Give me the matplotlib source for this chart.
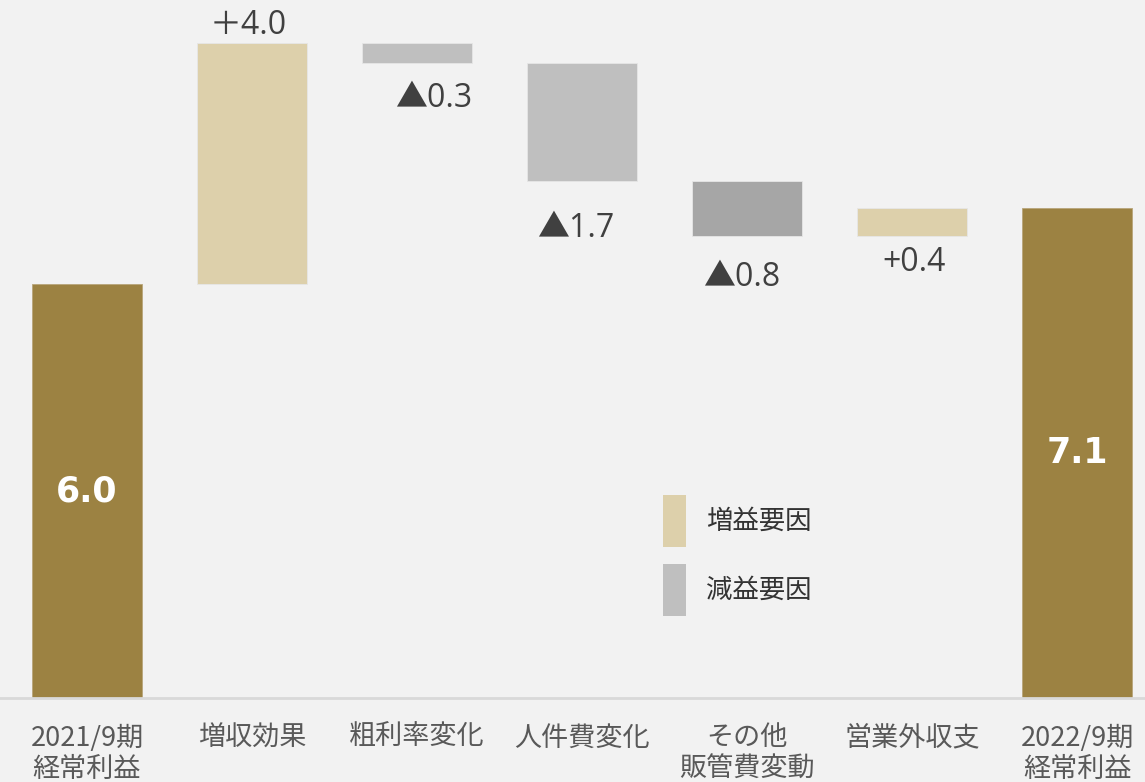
import matplotlib
matplotlib.use("Agg")
import matplotlib.pyplot as plt
from matplotlib.patches import Patch
import numpy as np

plt.rcParams['font.family'] = ['Noto Sans CJK JP', 'DejaVu Sans']

# ---- data ----
categories = ["2021/9期\n経常利益", "増収効果", "粗利率変化", "人件費変化",
              "その他\n販管費変動", "営業外収支", "2022/9期\n経常利益"]
start_value = 6.0
end_value = 7.1
deltas = [3.5, -0.3, -1.7, -0.8, 0.4]
delta_labels = ["＋4.0", "▲0.3", "▲1.7", "▲0.8", "+0.4"]
total_labels = ["6.0", "7.1"]
legend_labels = ["増益要因", "減益要因"]

# ---- styles ----
BG = '#F2F2F2'
C_TOTAL = '#9C8242'
C_INC = '#DDD0AB'
C_DEC = '#BFBFBF'
C_DEC2 = '#A6A6A6'
delta_colors = [C_INC, C_DEC, C_DEC, C_DEC2, C_INC]
# label offsets in pixels (dx, dy) relative to bar edge
label_offsets = [(-4, 17), (17, -35), (-6, -48), (-6, -42), (2, -27)]

fig = plt.figure(figsize=(11.45, 7.82), dpi=100, facecolor=BG)
ax = fig.add_axes([0, 1 - 698 / 782, 1, 698 / 782])
ax.set_facecolor(BG)

x = np.arange(len(categories))
width = 0.667

# totals
ax.bar([x[0], x[-1]], [start_value, end_value], width=width, color=C_TOTAL,
       edgecolor='#B8A57A', linewidth=0.6)

# deltas
cum = start_value
for i, (d, col) in enumerate(zip(deltas, delta_colors)):
    bottom = cum if d >= 0 else cum + d
    ax.bar(x[i + 1], abs(d), bottom=bottom, width=width, color=col,
           edgecolor='#E6E6E6', linewidth=0.6)
    dx, dy = label_offsets[i]
    ref_y = cum + d if (d >= 0 and dy > 0) else bottom
    ax.annotate(delta_labels[i], xy=(x[i + 1], ref_y), xytext=(dx, dy),
                textcoords='offset pixels', ha='center', va='center',
                fontsize=23, color='#404040',
                family=['Open Sans', 'Noto Sans CJK JP'])
    cum += d

# total labels
for xi, val, lab in zip([x[0], x[-1]], [start_value, end_value], total_labels):
    ax.text(xi, val / 2, lab, ha='center', va='center', fontsize=25,
            fontweight='bold', color='white', family=['DejaVu Sans'])

ax.set_xlim(-0.527, 6.41)
ax.set_ylim(0, 10.12)
ax.set_yticks([])
ax.set_xticks(x)
ax.set_xticklabels(categories, fontsize=19.5, color='#595959', linespacing=1.2)
ax.tick_params(axis='x', length=0, pad=19)
for s in ['top', 'right', 'left']:
    ax.spines[s].set_visible(False)
ax.spines['bottom'].set_color('#D9D9D9')
ax.spines['bottom'].set_linewidth(2)

handles = [Patch(facecolor=C_INC), Patch(facecolor=C_DEC)]
leg = fig.legend(handles, legend_labels, loc='upper left',
                 bbox_to_anchor=(663 / 1145, 1 - 495 / 782),
                 frameon=False, fontsize=19, handlelength=0.88, handleheight=2.65,
                 labelspacing=0.65, handletextpad=0.75, borderpad=0,
                 borderaxespad=0)
for t in leg.get_texts():
    t.set_color('#333333')

fig.savefig('out.png', dpi=100, facecolor=BG)
